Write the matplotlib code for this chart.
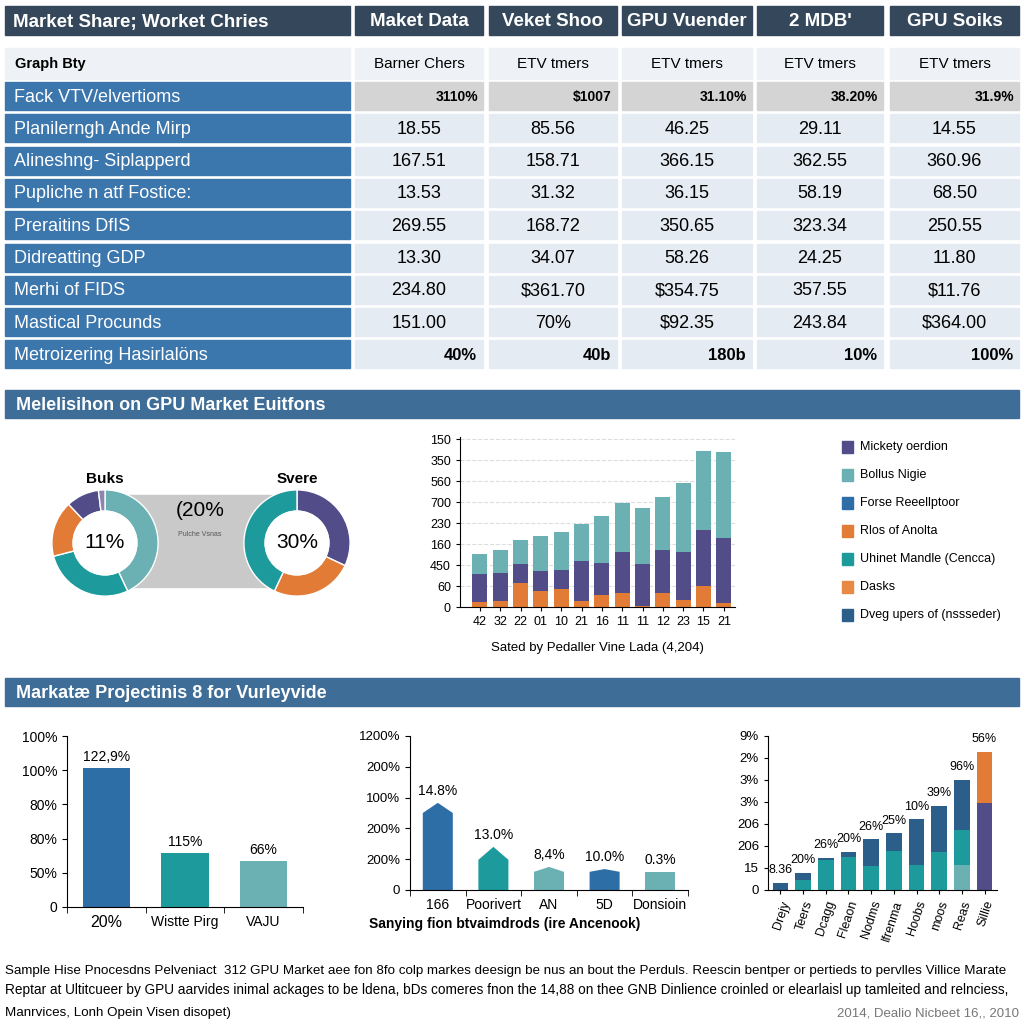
import matplotlib
matplotlib.use("Agg")
import matplotlib.pyplot as plt
from matplotlib.patches import Rectangle, Circle
import numpy as np

plt.rcParams['font.family'] = ['Liberation Sans', 'DejaVu Sans']
NARROW = ['Liberation Sans Narrow', 'Liberation Sans', 'DejaVu Sans']

# ---------------- data ----------------
header_cols = ["Market Share; Worket Chries", "Maket Data", "Veket Shoo",
               "GPU Vuender", "2 MDB'", "GPU Soiks"]
sub_cols = ["Graph Bty", "Barner Chers", "ETV tmers", "ETV tmers",
            "ETV tmers", "ETV tmers"]
row_labels = ["Fack VTV/elvertioms", "Planilerngh Ande Mirp",
              "Alineshng- Siplapperd", "Pupliche n atf Fostice:",
              "Preraitins DfIS", "Didreatting GDP", "Merhi of FIDS",
              "Mastical Procunds", "Metroizering Hasirlalöns"]
table_values = [
    ["3110%", "$1007", "31.10%", "38.20%", "31.9%"],
    ["18.55", "85.56", "46.25", "29.11", "14.55"],
    ["167.51", "158.71", "366.15", "362.55", "360.96"],
    ["13.53", "31.32", "36.15", "58.19", "68.50"],
    ["269.55", "168.72", "350.65", "323.34", "250.55"],
    ["13.30", "34.07", "58.26", "24.25", "11.80"],
    ["234.80", "$361.70", "$354.75", "357.55", "$11.76"],
    ["151.00", "70%", "$92.35", "243.84", "$364.00"],
    ["40%", "40b", "180b", "10%", "100%"],
]

donut_left = [43, 28, 17, 10, 2]
donut_right = [32, 25, 43]

stack_labels = ["42", "32", "22", "01", "10", "21", "16", "11", "11", "12", "23", "15", "21"]
stack_orange = [0.24, 0.29, 1.16, 0.76, 0.84, 0.29, 0.59, 0.67, 0.06, 0.68, 0.32, 0.98, 0.21]
stack_purple = [1.33, 1.31, 0.87, 0.95, 0.91, 1.88, 1.51, 1.95, 2.00, 2.02, 2.31, 2.67, 3.06]
stack_teal = [0.94, 1.13, 1.14, 1.67, 1.82, 1.77, 2.22, 2.35, 2.64, 2.54, 3.27, 3.78, 4.13]
stack_yticks = ["0", "60", "450", "160", "230", "700", "560", "350", "150"]
legend_labels = ["Mickety oerdion", "Bollus Nigie", "Forse Reeellptoor",
                 "Rlos of Anolta", "Uhinet Mandle (Cencca)", "Dasks",
                 "Dveg upers of (nssseder)"]

proj_cats = ["20%", "Wistte Pirg", "VAJU"]
proj_vals = [4.06, 1.58, 1.35]
proj_text = ["122,9%", "115%", "66%"]
proj_yticks = ["0", "50%", "80%", "80%", "100%", "100%"]

arrow_cats = ["166", "Poorivert", "AN", "5D", "Donsioin"]
arrow_shoulder = [2.50, 0.98, 0.59, 0.59, 0.59]
arrow_peak = [2.83, 1.40, 0.75, 0.68, 0.59]
arrow_text = ["14.8%", "13.0%", "8,4%", "10.0%", "0.3%"]
arrow_yticks = ["0", "200%", "200%", "100%", "200%", "1200%"]

ws_cats = ["Drejy", "Teers", "Dcagg", "Fleaon", "Nodms", "Ifrenma",
           "Hoobs", "moos", "Reas", "Sillie"]
ws_light = [0, 0, 0, 0, 0, 0, 0, 0, 1.12, 0]
ws_teal = [0, 0.45, 1.36, 1.49, 1.09, 1.76, 1.15, 1.72, 1.61, 0]
ws_dark = [0.34, 0.34, 0.09, 0.24, 1.22, 0.82, 2.07, 2.10, 2.27, 0]
ws_purple = [0, 0, 0, 0, 0, 0, 0, 0, 0, 3.97]
ws_orange = [0, 0, 0, 0, 0, 0, 0, 0, 0, 2.31]
ws_text = ["8.36", "20%", "26%", "20%", "26%", "25%", "10%", "39%", "96%", "56%"]
ws_yticks = ["0", "15", "206", "206", "3%", "3%", "2%", "9%"]

footer = [
    "Sample Hise Pnocesdns Pelveniact  312 GPU Market aee fon 8fo colp markes deesign be nus an bout the Perduls. Reescin bentper or pertieds to pervlles Villice Marate",
    "Reptar at Ultitcueer by GPU aarvides inimal ackages to be ldena, bDs comeres fnon the 14,88 on thee GNB Dinlience croinled or elearlaisl up tamleited and relnciess,",
    "Manrvices, Lonh Opein Visen disopet)",
]
footer_date = "2014, Dealio Nicbeet 16,, 2010"

# colours
DARK = '#35475a'
BLUE = '#3b76ad'
BANNER = '#3e6d97'
CELL = '#e5ebf2'
ORANGE = '#e27b36'
PURPLE = '#524c88'
LTEAL = '#6bb1b4'
TEAL = '#1d9a9c'
MBLUE = '#2e6ea6'
DBLUE = '#2b5f8a'

fig = plt.figure(figsize=(10.24, 10.24), dpi=100)
bg = fig.add_axes([0, 0, 1, 1])
bg.set_xlim(0, 1024)
bg.set_ylim(1024, 0)
bg.axis('off')


def px_axes(x0, y0, x1, y1):
    return fig.add_axes([x0 / 1024, 1 - y1 / 1024, (x1 - x0) / 1024, (y1 - y0) / 1024])


# ---------------- table ----------------
col_edges = [(5, 350), (355, 483), (489, 617), (622, 752), (757, 883), (890, 1019)]
for j, ((x0, x1), txt) in enumerate(zip(col_edges, header_cols)):
    bg.add_patch(Rectangle((x0, 6), x1 - x0, 29, color=DARK))
    if j == 0:
        bg.text(x0 + 8, 22, txt, color='white', fontsize=13.5, fontweight='bold',
                family=NARROW, va='center')
    else:
        bg.text((x0 + x1) / 2, 22, txt, color='white', fontsize=13.5,
                fontweight='bold', family=NARROW, va='center', ha='center')

for j, ((x0, x1), txt) in enumerate(zip(col_edges, sub_cols)):
    bg.add_patch(Rectangle((x0, 48), x1 - x0, 31, color='#eef1f5'))
    if j == 0:
        bg.text(x0 + 10, 64, txt, fontsize=10.5, fontweight='bold',
                family=NARROW, va='center')
    else:
        bg.text((x0 + x1) / 2, 64, txt, fontsize=11, family=NARROW,
                va='center', ha='center')

for i, (lab, vals) in enumerate(zip(row_labels, table_values)):
    top = 82 + 32.3 * i
    x0, x1 = col_edges[0]
    bg.add_patch(Rectangle((x0, top), x1 - x0, 28, color=BLUE))
    bg.text(x0 + 9, top + 15, lab, color='white', fontsize=13, family=NARROW,
            va='center')
    for (c0, c1), v in zip(col_edges[1:], vals):
        if i == 0:
            bg.add_patch(Rectangle((c0, top), c1 - c0, 28, color='#d4d4d4'))
            bg.text(c1 - 5, top + 15, v, fontsize=10, fontweight='bold',
                    family=NARROW, va='center', ha='right')
        elif i == len(row_labels) - 1:
            bg.add_patch(Rectangle((c0, top), c1 - c0, 28, color=CELL))
            bg.text(c1 - 6, top + 15, v, fontsize=12, fontweight='bold',
                    family=NARROW, va='center', ha='right')
        else:
            bg.add_patch(Rectangle((c0, top), c1 - c0, 28, color=CELL))
            bg.text((c0 + c1) / 2, top + 15, v, fontsize=13, family=NARROW,
                    va='center', ha='center')

# ---------------- banners ----------------
for y, txt in [(390, "Melelisihon on GPU Market Euitfons"),
               (678, "Markatæ Projectinis 8 for Vurleyvide")]:
    bg.add_patch(Rectangle((5, y), 1014, 28, color=BANNER))
    bg.text(16, y + 15, txt, color='white', fontsize=13, fontweight='bold',
            va='center')

# ---------------- donuts ----------------
bg.add_patch(Rectangle((105, 495), 192, 92, color='#c9c9c9'))
bg.text(200, 511, "(20%", fontsize=15, ha='center', va='center')
bg.text(200, 534, "Pulche Vsnas", fontsize=5, color='#555555', ha='center', va='center')
bg.text(105, 479, "Buks", fontsize=11, fontweight='bold', ha='center', va='center')
bg.text(297, 479, "Svere", fontsize=11, fontweight='bold', ha='center', va='center')

for cx, vals, cols, centre in [
        (105, donut_left, [LTEAL, TEAL, ORANGE, PURPLE, '#8a86b0'], "11%"),
        (297, donut_right, [PURPLE, ORANGE, TEAL], "30%")]:
    ax = px_axes(cx - 60, 483, cx + 60, 603)
    ax.pie(vals, colors=cols, startangle=90, counterclock=False, radius=1,
           wedgeprops=dict(width=0.4, edgecolor='white', linewidth=1))
    ax.add_patch(Circle((0, 0), 0.6, color='white'))
    ax.text(0, 0, centre, fontsize=15, ha='center', va='center')
    ax.set_xlim(-1.13, 1.13)
    ax.set_ylim(-1.13, 1.13)
    ax.axis('off')

# ---------------- stacked bars ----------------
ax = px_axes(460, 437, 735, 607)
x = np.arange(len(stack_labels))
ax.bar(x, stack_orange, width=0.74, color=ORANGE)
ax.bar(x, stack_purple, width=0.74, bottom=stack_orange, color=PURPLE)
ax.bar(x, stack_teal, width=0.74,
       bottom=np.array(stack_orange) + np.array(stack_purple), color=LTEAL)
ax.set_xlim(-0.98, 12.55)
ax.set_ylim(0, 8.1)
ax.set_yticks(range(len(stack_yticks)))
ax.set_yticklabels(stack_yticks, fontsize=9)
ax.set_xticks(x)
ax.set_xticklabels(stack_labels, fontsize=9)
ax.tick_params(length=3)
ax.yaxis.grid(True, ls='--', color='#dddddd')
ax.set_axisbelow(True)
for s in ['top', 'right']:
    ax.spines[s].set_visible(False)
ax.set_facecolor('none')
bg.text(597, 648, "Sated by Pedaller Vine Lada (4,204)", fontsize=9.5,
        family=NARROW, ha='center', va='center')

legend_colors = [PURPLE, LTEAL, MBLUE, ORANGE, TEAL, '#e88a44', DBLUE]
for i, (lab, c) in enumerate(zip(legend_labels, legend_colors)):
    y = 447 + 28 * i
    bg.add_patch(Rectangle((842, y - 6), 11, 12, color=c))
    bg.text(860, y, lab, fontsize=9, va='center')

# ---------------- projections ----------------
ax = px_axes(67, 736, 303, 907)
xp = np.arange(len(proj_cats))
ax.bar(xp, proj_vals, width=0.6, color=[MBLUE, TEAL, LTEAL])
for xi, v, t in zip(xp, proj_vals, proj_text):
    ax.text(xi, v + 0.12, t, ha='center', va='bottom', fontsize=10)
ax.set_xlim(-0.5, 2.5)
ax.set_ylim(0, 5)
ax.set_yticks(range(len(proj_yticks)))
ax.set_yticklabels(proj_yticks, fontsize=10)
ax.set_xticks(xp)
ax.set_xticklabels(proj_cats, fontsize=10)
ax.get_xticklabels()[0].set_fontsize(11.5)
ax.set_xticks([-0.5, 0.5, 1.5, 2.5], minor=True)
ax.tick_params(axis='x', which='major', length=0, pad=6)
ax.tick_params(axis='x', which='minor', length=4)
for s in ['top', 'right']:
    ax.spines[s].set_visible(False)
ax.set_facecolor('none')

ax = px_axes(410, 736, 688, 890)
arrow_cols = [MBLUE, TEAL, LTEAL, MBLUE, LTEAL]
w = 0.54
for i, (sh, pk, c, t) in enumerate(zip(arrow_shoulder, arrow_peak, arrow_cols, arrow_text)):
    ax.fill([i - w / 2, i - w / 2, i, i + w / 2, i + w / 2],
            [0, sh, pk, sh, 0], color=c, lw=0)
    ax.text(i, pk + 0.17, t, ha='center', va='bottom', fontsize=10)
ax.set_xlim(-0.5, 4.5)
ax.set_ylim(0, 5)
ax.set_yticks(range(len(arrow_yticks)))
ax.set_yticklabels(arrow_yticks, fontsize=9.5)
ax.set_xticks(range(len(arrow_cats)))
ax.set_xticklabels(arrow_cats, fontsize=10)
ax.set_xticks(np.arange(-0.5, 5), minor=True)
ax.tick_params(axis='x', which='major', length=0, pad=6)
ax.tick_params(axis='x', which='minor', length=4)
for s in ['top', 'right']:
    ax.spines[s].set_visible(False)
ax.set_facecolor('none')
bg.text(505, 924, "Sanying fion btvaimdrods (ire Ancenook)", fontsize=10,
        fontweight='bold', family=NARROW, ha='center', va='center')

ax = px_axes(768, 736, 997, 890)
xw = np.arange(len(ws_cats))
bottom = np.zeros(len(ws_cats))
for layer, c in [(ws_light, LTEAL), (ws_teal, TEAL), (ws_dark, DBLUE),
                 (ws_purple, PURPLE), (ws_orange, ORANGE)]:
    ax.bar(xw, layer, width=0.68, bottom=bottom, color=c)
    bottom = bottom + np.array(layer)
for xi, top, t in zip(xw, bottom, ws_text):
    ax.text(xi, top + 0.3, t, ha='center', va='bottom', fontsize=9)
ax.set_xlim(-0.55, 9.55)
ax.set_ylim(0, 7)
ax.set_yticks(range(len(ws_yticks)))
ax.set_yticklabels(ws_yticks, fontsize=9.5)
ax.set_xticks(xw)
ax.set_xticklabels(ws_cats, fontsize=9, rotation=72, ha='right',
                   rotation_mode='anchor')
ax.tick_params(length=3)
for s in ['top', 'right']:
    ax.spines[s].set_visible(False)
ax.set_facecolor('none')

# ---------------- footer ----------------
footer_sizes = [9.6, 9.8, 9.6]
for i, (line, fs) in enumerate(zip(footer, footer_sizes)):
    bg.text(5, 971 + 19 * i + (4 if i == 2 else 0), line, fontsize=fs,
            family=NARROW, va='center')
bg.text(1019, 1013, footer_date, fontsize=9.5, family=NARROW, color='#777777',
        ha='right', va='center')

fig.savefig("out.png", dpi=100)
